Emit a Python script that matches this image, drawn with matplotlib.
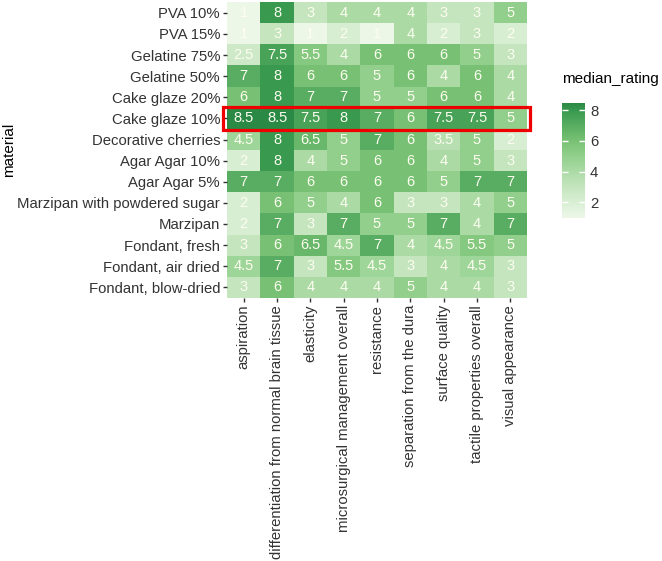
import numpy as np
import matplotlib.pyplot as plt
from matplotlib.colors import LinearSegmentedColormap
from matplotlib.patches import Rectangle

plt.rcParams['font.family'] = ['Liberation Sans', 'DejaVu Sans']

materials = ['PVA 10%', 'PVA 15%', 'Gelatine 75%', 'Gelatine 50%', 'Cake glaze 20%',
             'Cake glaze 10%', 'Decorative cherries', 'Agar Agar 10%', 'Agar Agar 5%',
             'Marzipan with powdered sugar', 'Marzipan', 'Fondant, fresh',
             'Fondant, air dried', 'Fondant, blow-dried']
criteria = ['aspiration', 'differentiation from normal brain tissue', 'elasticity',
            'microsurgical management overall', 'resistance', 'separation from the dura',
            'surface quality', 'tactile properties overall', 'visual appearance']

# median ratings, one row per material (same order as materials)
pva_10 = [1, 8, 3, 4, 4, 4, 3, 3, 5]
pva_15 = [1, 3, 1, 2, 1, 4, 2, 3, 2]
gelatine_75 = [2.5, 7.5, 5.5, 4, 6, 6, 6, 5, 3]
gelatine_50 = [7, 8, 6, 6, 5, 6, 4, 6, 4]
cake_glaze_20 = [6, 8, 7, 7, 5, 5, 6, 6, 4]
cake_glaze_10 = [8.5, 8.5, 7.5, 8, 7, 6, 7.5, 7.5, 5]
decorative_cherries = [4.5, 8, 6.5, 5, 7, 6, 3.5, 5, 2]
agar_10 = [2, 8, 4, 5, 6, 6, 4, 5, 3]
agar_5 = [7, 7, 6, 6, 6, 6, 5, 7, 7]
marzipan_sugar = [2, 6, 5, 4, 6, 3, 3, 4, 5]
marzipan = [2, 7, 3, 7, 5, 5, 7, 4, 7]
fondant_fresh = [3, 6, 6.5, 4.5, 7, 4, 4.5, 5.5, 5]
fondant_air = [4.5, 7, 3, 5.5, 4.5, 3, 4, 4.5, 3]
fondant_blow = [3, 6, 4, 4, 4, 5, 4, 4, 3]

ratings = np.array([pva_10, pva_15, gelatine_75, gelatine_50, cake_glaze_20, cake_glaze_10,
                    decorative_cherries, agar_10, agar_5, marzipan_sugar, marzipan,
                    fondant_fresh, fondant_air, fondant_blow])

highlight = 'Cake glaze 10%'

# ggplot-like gradient (Lab interpolation keeps the midtones saturated)
cmap = LinearSegmentedColormap.from_list(
    'greens', [(0.0, '#ecf7e8'), (0.27, '#c4e5be'), (0.53, '#93d08d'),
               (0.67, '#78c174'), (0.93, '#399a50'), (1.0, '#2a8944')])

fig = plt.figure(figsize=(6.62, 5.61), dpi=100)
ax = fig.add_axes([0.343, 0.469, 0.453, 0.527])
im = ax.imshow(ratings, cmap=cmap, aspect='auto', vmin=ratings.min(), vmax=ratings.max(),
               interpolation='nearest')

for i in range(ratings.shape[0]):
    for j in range(ratings.shape[1]):
        ax.text(j, i, f'{ratings[i, j]:g}', ha='center', va='center',
                color='#fdfdf0', fontsize=10.5)

ax.set_xticks(range(len(criteria)))
ax.set_xticklabels(criteria, rotation=90, fontsize=10.7, color='#333333')
ax.set_yticks(range(len(materials)))
ax.set_yticklabels(materials, fontsize=10.7, color='#333333')
ax.tick_params(length=3, color='#333333', width=1, pad=2)
ax.set_ylabel('material', fontsize=11)
ax.yaxis.set_label_coords(-0.705, 0.5)
for s in ax.spines.values():
    s.set_visible(False)

r = materials.index(highlight)
ax.add_patch(Rectangle((-0.62, r - 0.55), 9.22, 1.1, fill=False, edgecolor='#ee0000',
                       linewidth=2.3, clip_on=False, zorder=5))

cax = fig.add_axes([0.849, 0.612, 0.035, 0.205])
cb = fig.colorbar(im, cax=cax, ticks=[2, 4, 6, 8])
cb.outline.set_visible(False)
cax.tick_params(direction='in', length=4, color='white', width=1, labelsize=10.7,
                left=True, right=True, labelcolor='#333333')
cax.set_title('median_rating', fontsize=11, loc='left', pad=14)

fig.savefig('out.png', dpi=100)
